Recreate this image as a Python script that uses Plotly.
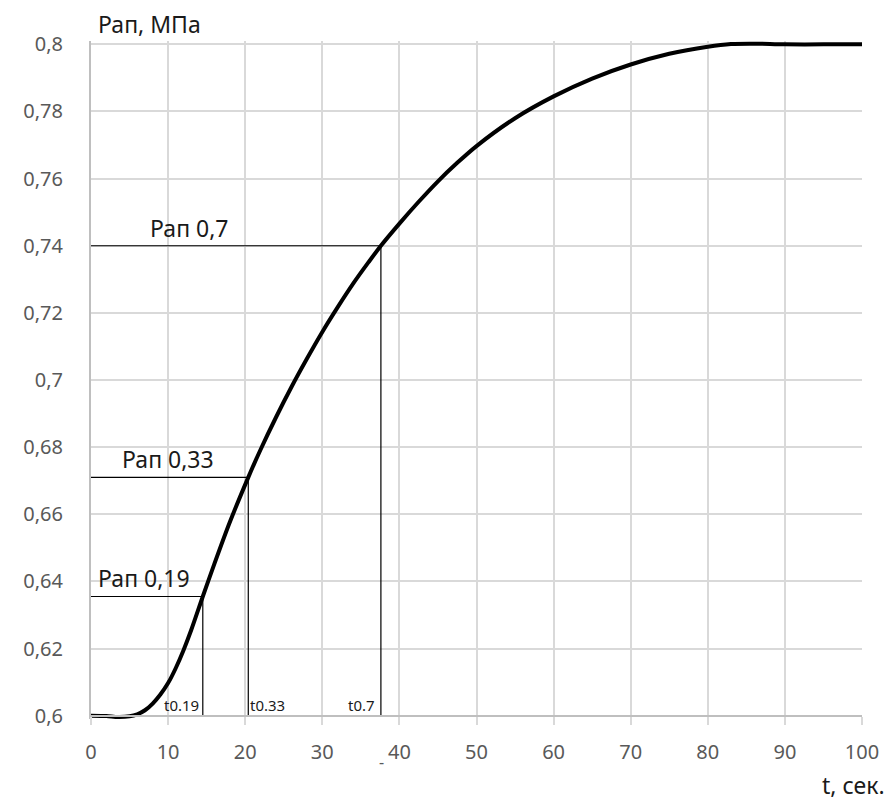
import plotly.graph_objects as go

# ---- data ----
t_vals = [0, 2, 3.5, 5, 6, 7, 8, 9, 10, 11, 12, 13, 14.5, 16, 18, 20.4, 22, 24, 26, 28,
          30, 32, 34, 36, 37.6, 40, 42.5, 45, 47.5, 50, 55, 60, 65, 70, 75, 80, 83, 86, 90, 95, 100]
p_vals = [0.6, 0.5999, 0.5996, 0.5998, 0.6004, 0.6016, 0.6036, 0.6063, 0.6097, 0.6142,
          0.6195, 0.6255, 0.6355, 0.6452, 0.6576, 0.671, 0.6793, 0.6889, 0.6979, 0.7063,
          0.7143, 0.7217, 0.7287, 0.7351, 0.74, 0.7466, 0.7531, 0.7592, 0.7647, 0.7697,
          0.778, 0.7845, 0.7898, 0.794, 0.7972, 0.7993, 0.8001, 0.8002, 0.8, 0.8, 0.8]

ref_t = [14.5, 20.4, 37.6]
ref_p = [0.6355, 0.671, 0.74]
ref_labels = ["Рап 0,19", "Рап 0,33", "Рап 0,7"]
t_labels = ["t0.19", "t0.33", "t0.7"]

x_ticks = [0, 10, 20, 30, 40, 50, 60, 70, 80, 90, 100]
y_ticks = [0.6, 0.62, 0.64, 0.66, 0.68, 0.7, 0.72, 0.74, 0.76, 0.78, 0.8]
y_ticktext = ["0,6", "0,62", "0,64", "0,66", "0,68", "0,7", "0,72", "0,74", "0,76", "0,78", "0,8"]

FONT = "Noto Sans"
Y0, Y1 = 0.599, 0.801

fig = go.Figure()

# reference lines
for t, p in zip(ref_t, ref_p):
    fig.add_trace(go.Scatter(x=[0, t, t], y=[p, p, 0.6], mode="lines",
                             line=dict(color="#000000", width=1.2),
                             hoverinfo="skip", showlegend=False))

# main curve
fig.add_trace(go.Scatter(x=t_vals, y=p_vals, mode="lines",
                         line=dict(color="#000000", width=4, shape="spline", smoothing=0.8),
                         showlegend=False))

annotations = []
# Pap labels
lab_x = [0.7, 10.0, 12.8]
lab_anchor = ["left", "center", "center"]
lab_shift = [0, 0, 0]
for lx, la, ls, p, txt in zip(lab_x, lab_anchor, lab_shift, ref_p, ref_labels):
    annotations.append(dict(x=lx, y=p, xref="x", yref="y", text=txt, showarrow=False,
                            xanchor=la, yanchor="bottom", yshift=ls,
                            font=dict(family=FONT, size=23, color="#1a1a1a")))
# t labels
t_anchor = ["right", "left", "right"]
t_shift = [-2, 0, -4]
for t, ta, ts, txt in zip(ref_t, t_anchor, t_shift, t_labels):
    annotations.append(dict(x=t, y=0.6, xref="x", yref="y", text=txt, showarrow=False,
                            xanchor=ta, yanchor="bottom", xshift=ts, yshift=-1,
                            font=dict(family=FONT, size=15, color="#1a1a1a")))
# axis titles
annotations.append(dict(x=0.006, y=1.025, xref="paper", yref="paper", text="Рап, МПа",
                        showarrow=False, xanchor="left", yanchor="middle",
                        font=dict(family=FONT, size=23, color="#1a1a1a")))
annotations.append(dict(x=1.033, y=-0.097, xref="paper", yref="paper", text="t, сек.",
                        showarrow=False, xanchor="right", yanchor="middle",
                        font=dict(family=FONT, size=23, color="#1a1a1a")))
# small stray dash near the 40 tick
annotations.append(dict(x=37.7, y=-0.064, xref="x", yref="paper", text="-",
                        showarrow=False, xanchor="center", yanchor="middle",
                        font=dict(family=FONT, size=16, color="#595959")))

pos = (0.6 - Y0) / (Y1 - Y0)

fig.update_layout(
    width=895, height=801,
    margin=dict(l=91, r=33, t=40.6, b=81.6),
    paper_bgcolor="white", plot_bgcolor="white",
    annotations=annotations,
    xaxis=dict(range=[0, 100], tickvals=x_ticks, showgrid=True, gridcolor="#d9d9d9",
               gridwidth=2, showline=True, linecolor="#bfbfbf", linewidth=2,
               anchor="free", position=pos,
               ticks="outside", ticklen=8, tickwidth=2, tickcolor="#d9d9d9",
               ticklabelstandoff=10, zeroline=False,
               tickfont=dict(family=FONT, size=20, color="#595959")),
    yaxis=dict(range=[Y0, Y1], tickvals=y_ticks, ticktext=y_ticktext, showgrid=True,
               gridcolor="#d9d9d9", gridwidth=2, showline=True, linecolor="#bfbfbf",
               linewidth=2, ticks="", ticklabelstandoff=22, zeroline=False,
               tickfont=dict(family=FONT, size=20, color="#595959")),
)

fig.write_html("out.html")
